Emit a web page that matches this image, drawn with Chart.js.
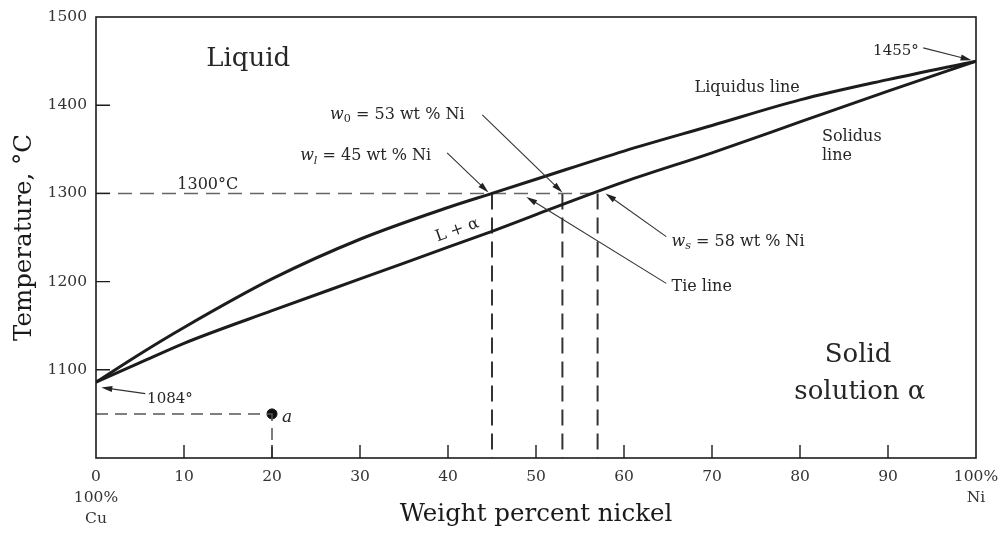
<!DOCTYPE html>
<html>
<head>
<meta charset="utf-8">
<script src="https://cdn.jsdelivr.net/npm/chart.js@4.4.1/dist/chart.umd.min.js"></script>
<style>
  html, body { margin: 0; padding: 0; background: #ffffff; }
  #wrap { width: 1000px; height: 534px; }
</style>
</head>
<body>
<div id="wrap"><canvas id="c"></canvas></div>
<script>
// ---------- data ----------
const wtNi       = [0,    5,    10,   20,   30,   40,   45,   50,   60,   70,   80,   90,   100];
const liquidusT  = [1086, 1118, 1148, 1203, 1248, 1284, 1300, 1316, 1348, 1377, 1406, 1429, 1450];
const solidusT   = [1086, 1108, 1130, 1167, 1203, 1239, 1257, 1276, 1313, 1346, 1381, 1416, 1450];

const xTicks      = [0, 10, 20, 30, 40, 50, 60, 70, 80, 90, 100];
const xTickLabels = [['0', '100%', 'Cu'], '10', '20', '30', '40', '50', '60', '70', '80', '90', ['100%', 'Ni']];
const yTicks      = [1000, 1100, 1200, 1300, 1400, 1500];
const yTickLabels = ['', '1100', '1200', '1300', '1400', '1500'];

const tieTemp       = 1300;      // °C
const tieStartWt    = 0;
const tieEndWt      = 57;
const compositionWt = [45, 53, 57];   // w_l, w_0, w_s as drawn
const pointAWt      = 20;
const pointATemp    = 1050;
const xMin = 0, xMax = 100, yMin = 1000, yMax = 1500;

// ---------- styling / annotation layout ----------
const SERIF = '"DejaVu Serif", "Liberation Serif", serif';
const INK = '#1c1c1c';
const TEXT = '#262626';

const notes = [
  { x: 17.3, y: 1455, size: 26, align: 'center', parts: [{ t: 'Liquid' }] },
  { x: 74.0, y: 1421, size: 16, align: 'center', parts: [{ t: 'Liquidus line' }] },
  { x: 82.5, y: 1366, size: 16, align: 'left',   parts: [{ t: 'Solidus' }] },
  { x: 82.5, y: 1344, size: 16, align: 'left',   parts: [{ t: 'line' }] },
  { x: 90.9, y: 1463, size: 15, align: 'center', parts: [{ t: '1455°' }] },
  { x: 8.4,  y: 1069, size: 15, align: 'center', parts: [{ t: '1084°' }] },
  { x: 12.7, y: 1312, size: 16, align: 'center', parts: [{ t: '1300°C' }] },
  { x: 26.6, y: 1391, size: 16, align: 'left',   parts: [{ t: 'w', it: true }, { t: '0', sub: true }, { t: ' = 53 wt % Ni' }] },
  { x: 23.2, y: 1344, size: 16, align: 'left',   parts: [{ t: 'w', it: true }, { t: 'l', sub: true, it: true }, { t: ' = 45 wt % Ni' }] },
  { x: 65.4, y: 1247, size: 16, align: 'left',   parts: [{ t: 'w', it: true }, { t: 's', sub: true, it: true }, { t: ' = 58 wt % Ni' }] },
  { x: 65.4, y: 1196, size: 16, align: 'left',   parts: [{ t: 'Tie line' }] },
  { x: 41.0, y: 1260, size: 16, align: 'center', rot: -19.5, parts: [{ t: 'L + α' }] },
  { x: 21.7, y: 1048, size: 17, align: 'center', parts: [{ t: 'a', it: true }] },
  { x: 86.6, y: 1119, size: 26, align: 'center', parts: [{ t: 'Solid' }] },
  { x: 86.8, y: 1077, size: 26, align: 'center', parts: [{ t: 'solution α' }] }
];

const arrows = [
  { from: [94.0, 1465], to: [99.5, 1451] },
  { from: [5.6, 1073],  to: [0.6, 1080] },
  { from: [43.9, 1389], to: [53.0, 1301] },
  { from: [39.9, 1346], to: [44.6, 1301] },
  { from: [64.8, 1251], to: [57.9, 1300] },
  { from: [64.8, 1198], to: [48.9, 1296] }
];

// ---------- datasets ----------
const pts = (xs, ys) => xs.map((v, i) => ({ x: v, y: ys[i] }));

const verticalDrops = [];
compositionWt.forEach((w, i) => {
  verticalDrops.push({ x: w, y: tieTemp }, { x: w, y: yMin });
  if (i < compositionWt.length - 1) verticalDrops.push({ x: w, y: null });
});

const datasets = [
  { label: 'Liquidus', data: pts(wtNi, liquidusT), showLine: true, borderColor: INK, borderWidth: 3,
    pointRadius: 0, cubicInterpolationMode: 'monotone' },
  { label: 'Solidus', data: pts(wtNi, solidusT), showLine: true, borderColor: INK, borderWidth: 3,
    pointRadius: 0, cubicInterpolationMode: 'monotone' },
  { label: 'Tie line', data: [{ x: tieStartWt, y: tieTemp }, { x: tieEndWt, y: tieTemp }], showLine: true,
    borderColor: '#666', borderWidth: 1.5, borderDash: [14, 8], pointRadius: 0 },
  { label: 'Compositions', data: verticalDrops, showLine: true, spanGaps: false,
    borderColor: '#333', borderWidth: 2, borderDash: [16, 8], pointRadius: 0 },
  { label: 'Point a lines', data: [{ x: xMin, y: pointATemp }, { x: pointAWt, y: pointATemp }, { x: pointAWt, y: yMin }],
    showLine: true, borderColor: '#555', borderWidth: 1.5, borderDash: [12, 7], pointRadius: 0 },
  { label: 'Point a', data: [{ x: pointAWt, y: pointATemp }], showLine: false,
    pointRadius: 5, pointBackgroundColor: '#111', pointBorderColor: '#111' }
];

// ---------- plugin: frame, inward ticks, labels, arrows ----------
function fontStr(size, italic) { return (italic ? 'italic ' : '') + size + 'px ' + SERIF; }

function drawRich(ctx, note, px, py) {
  const subScale = 0.7;
  const segs = note.parts.map(p => {
    const sz = p.sub ? note.size * subScale : note.size;
    ctx.font = fontStr(sz, p.it);
    return { p, sz, w: ctx.measureText(p.t).width };
  });
  const total = segs.reduce((s, g) => s + g.w, 0);
  ctx.save();
  ctx.translate(px, py);
  if (note.rot) ctx.rotate(note.rot * Math.PI / 180);
  let cx = note.align === 'center' ? -total / 2 : 0;
  ctx.textBaseline = 'alphabetic';
  ctx.textAlign = 'left';
  const base = note.size * 0.36;
  segs.forEach(g => {
    ctx.font = fontStr(g.sz, g.p.it);
    ctx.fillText(g.p.t, cx, base + (g.p.sub ? note.size * 0.22 : 0));
    cx += g.w;
  });
  ctx.restore();
}

function drawArrow(ctx, x1, y1, x2, y2) {
  const ang = Math.atan2(y2 - y1, x2 - x1);
  const L = 11, W = 3;
  ctx.beginPath();
  ctx.moveTo(x1, y1);
  ctx.lineTo(x2 - Math.cos(ang) * L * 0.8, y2 - Math.sin(ang) * L * 0.8);
  ctx.stroke();
  ctx.beginPath();
  ctx.moveTo(x2, y2);
  ctx.lineTo(x2 - Math.cos(ang) * L - Math.sin(ang) * W, y2 - Math.sin(ang) * L + Math.cos(ang) * W);
  ctx.lineTo(x2 - Math.cos(ang) * L + Math.sin(ang) * W, y2 - Math.sin(ang) * L - Math.cos(ang) * W);
  ctx.closePath();
  ctx.fill();
}

const phasePlugin = {
  id: 'phaseDiagram',
  afterDraw(chart) {
    const { ctx, chartArea: a, scales: { x, y } } = chart;
    ctx.save();
    ctx.strokeStyle = INK;
    ctx.lineWidth = 1.6;
    ctx.strokeRect(a.left, a.top, a.right - a.left, a.bottom - a.top);
    ctx.lineWidth = 1.4;
    ctx.beginPath();
    x.ticks.forEach(t => {
      if (t.value <= x.min || t.value >= x.max) return;
      const px = x.getPixelForValue(t.value);
      ctx.moveTo(px, a.bottom); ctx.lineTo(px, a.bottom - 13);
    });
    y.ticks.forEach(t => {
      if (t.value <= y.min || t.value >= y.max) return;
      const py = y.getPixelForValue(t.value);
      ctx.moveTo(a.left, py); ctx.lineTo(a.left + 14, py);
    });
    ctx.stroke();

    ctx.strokeStyle = '#333';
    ctx.fillStyle = '#222';
    ctx.lineWidth = 1.1;
    arrows.forEach(ar => {
      drawArrow(ctx, x.getPixelForValue(ar.from[0]), y.getPixelForValue(ar.from[1]),
                     x.getPixelForValue(ar.to[0]), y.getPixelForValue(ar.to[1]));
    });

    ctx.fillStyle = TEXT;
    notes.forEach(n => drawRich(ctx, n, x.getPixelForValue(n.x), y.getPixelForValue(n.y)));
    ctx.restore();
  }
};

new Chart(document.getElementById('c'), {
  type: 'scatter',
  data: { datasets },
  plugins: [phasePlugin],
  options: {
    responsive: true,
    maintainAspectRatio: false,
    animation: false,
    layout: { padding: { top: 17, right: 24, bottom: 0, left: 0 } },
    plugins: { legend: { display: false }, tooltip: { enabled: false } },
    scales: {
      x: {
        type: 'linear', min: xMin, max: xMax,
        afterBuildTicks: s => { s.ticks = xTicks.map(v => ({ value: v })); },
        afterFit: s => { s.height = 76; s.paddingRight = 0; s.paddingLeft = 0; },
        grid: { display: false, drawTicks: false },
        border: { display: false },
        ticks: {
          autoSkip: false, maxRotation: 0, padding: 9, color: '#333',
          font: { family: SERIF, size: 15.5, lineHeight: 1.35 },
          callback: (v, i) => xTickLabels[i]
        },
        title: {
          display: true, text: 'Weight percent nickel', color: '#1a1a1a',
          font: { family: SERIF, size: 24.5, lineHeight: 1.2 },
          padding: { top: 0, bottom: 5 }
        }
      },
      y: {
        type: 'linear', min: yMin, max: yMax,
        afterBuildTicks: s => { s.ticks = yTicks.map(v => ({ value: v })); },
        afterFit: s => { s.width = 96; s.paddingTop = 0; s.paddingBottom = 0; },
        grid: { display: false, drawTicks: false },
        border: { display: false },
        ticks: {
          autoSkip: false, padding: 9, color: '#333',
          font: { family: SERIF, size: 15.5 },
          callback: (v, i) => yTickLabels[i]
        },
        title: {
          display: true, text: 'Temperature, °C', color: '#1a1a1a',
          font: { family: SERIF, size: 24.5, lineHeight: 1.2 },
          padding: { top: 10, bottom: 0 }
        }
      }
    }
  }
});
</script>
</body>
</html>
